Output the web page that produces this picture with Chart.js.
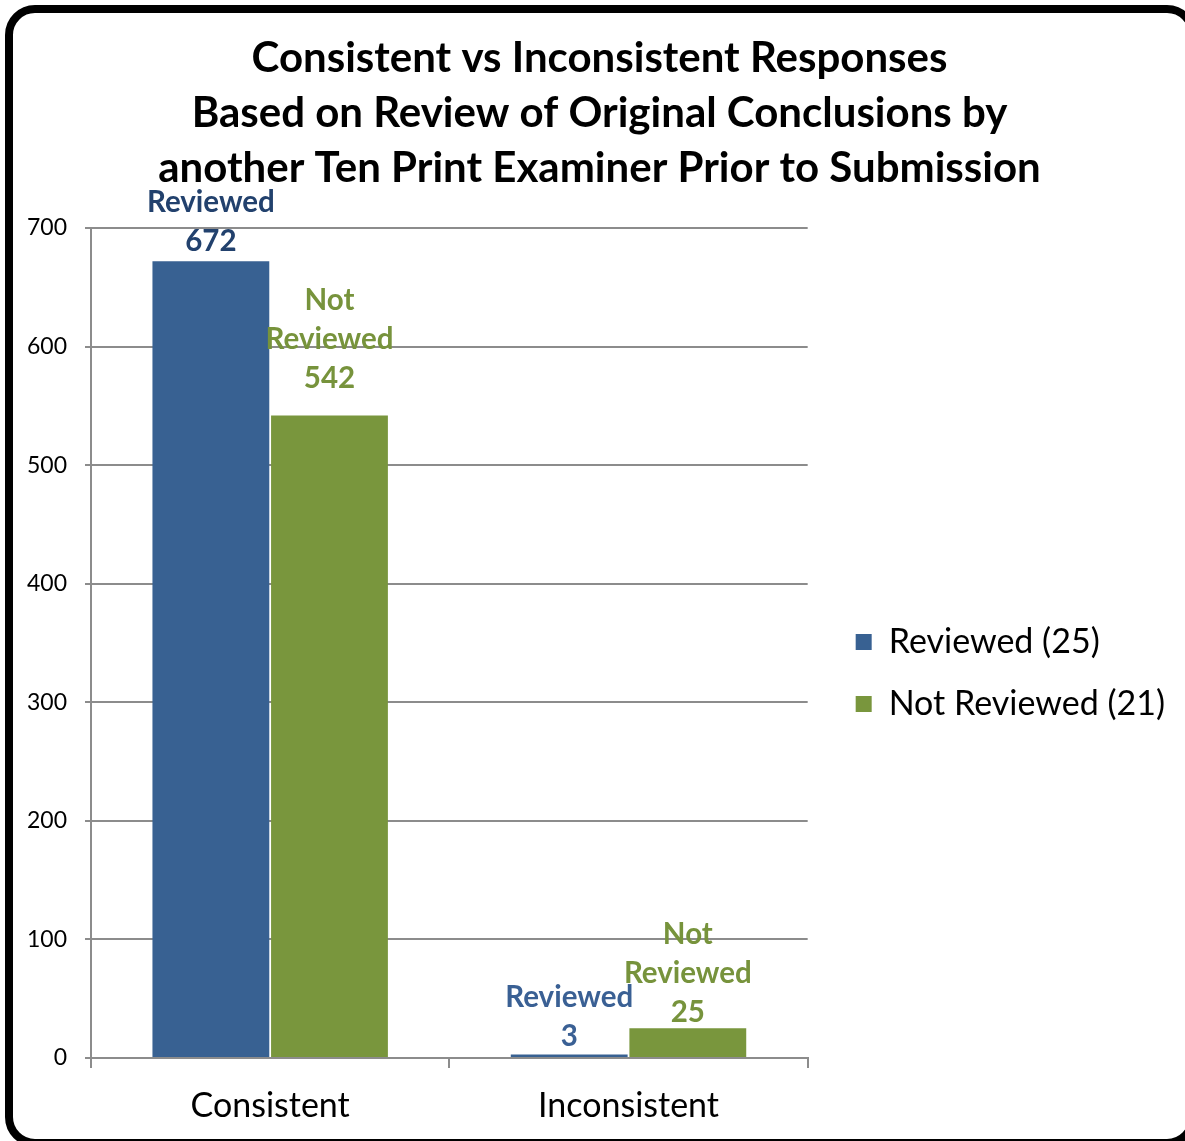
<!DOCTYPE html>
<html>
<head>
<meta charset="utf-8">
<title>Consistent vs Inconsistent Responses</title>
<script src="https://cdn.jsdelivr.net/npm/chart.js@4.4.0/dist/chart.umd.min.js"></script>
<style>
    body { margin: 0; background: #fff; overflow: hidden; }
    #wrap { position: relative; width: 1185px; height: 1141px; overflow: hidden; }
    #chart { position: absolute; left: 0; top: 0; }
    .frame {
        position: absolute; left: 5px; top: 5px; width: 1192px; height: 1142px;
        box-sizing: border-box; border: 8px solid #000; border-radius: 30px;
        pointer-events: none;
    }
</style>
</head>
<body>
<div id="wrap">
    <canvas id="chart" width="1185" height="1141"></canvas>
    <div class="frame"></div>
</div>
<script>
// Chart data
const categories = ["Consistent", "Inconsistent"];
const seriesNames = ["Reviewed", "Not Reviewed"];
const legendNames = ["Reviewed (25)", "Not Reviewed (21)"];
const reviewedValues = [672, 3];
const notReviewedValues = [542, 25];
const yTicks = [0, 100, 200, 300, 400, 500, 600, 700];

const titleLines = [
    "Consistent vs Inconsistent Responses",
    "Based on Review of Original Conclusions by",
    "another Ten Print Examiner Prior to Submission"
];

const FONT = "Lato, 'Open Sans', sans-serif";

// Draws "Name / value" labels above every bar
const barLabels = {
    id: "barLabels",
    afterDatasetsDraw(chart, args, opts) {
        const ctx = chart.ctx;
        ctx.save();
        ctx.font = "bold " + opts.size + "px " + FONT;
        ctx.textAlign = "center";
        ctx.textBaseline = "middle";
        chart.data.datasets.forEach((ds, di) => {
            const meta = chart.getDatasetMeta(di);
            meta.data.forEach((bar, i) => {
                const lines = seriesNames[di].split(" ").concat([String(ds.data[i])]);
                ctx.fillStyle = opts.colors[di][i];
                let y = bar.y - opts.gaps[di][i];
                for (let k = lines.length - 1; k >= 0; k--) {
                    ctx.fillText(lines[k], bar.x, y);
                    y -= opts.lineGap;
                }
            });
        });
        ctx.restore();
    }
};

const ctx = document.getElementById("chart").getContext("2d");
const chart = new Chart(ctx, {
    type: "bar",
    data: {
        labels: categories,
        datasets: [{
            label: legendNames[0],
            data: reviewedValues,
            backgroundColor: "#386192",
            categoryPercentage: 0.662,
            barPercentage: 0.985
        }, {
            label: legendNames[1],
            data: notReviewedValues,
            backgroundColor: "#79963D",
            categoryPercentage: 0.662,
            barPercentage: 0.985
        }]
    },
    options: {
        responsive: false,
        animation: false,
        layout: { padding: { left: 24, right: 10, top: 0, bottom: 0 } },
        plugins: {
            title: {
                display: true,
                text: titleLines,
                color: "#000",
                font: { family: FONT, size: 42, weight: "bold", lineHeight: 1.31 },
                padding: { top: 31, bottom: 32 }
            },
            legend: {
                position: "right",
                fullSize: false,
                maxWidth: 500,
                title: { display: true, text: " ", font: { size: 20, lineHeight: 1.2 }, padding: 18 },
                labels: {
                    color: "#000",
                    font: { family: FONT, size: 34 },
                    boxWidth: 16,
                    boxHeight: 16,
                    padding: 28
                }
            },
            tooltip: { enabled: false },
            barLabels: {
                size: 29.5,
                lineGap: 39,
                colors: [["#22416D", "#3A6094"], ["#77933C", "#77933C"]],
                gaps: [[20, 18], [37, 16]]
            }
        },
        scales: {
            x: {
                grid: {
                    display: true,
                    offset: true,
                    drawOnChartArea: false,
                    drawTicks: true,
                    tickLength: 10,
                    color: "#8c8c8c",
                    lineWidth: 2
                },
                border: { display: true, color: "#8c8c8c", width: 2 },
                ticks: { color: "#000", font: { family: FONT, size: 34 }, padding: 18 },
                afterFit(scale) { scale.height = 83; }
            },
            y: {
                min: 0,
                max: 700,
                afterBuildTicks(scale) { scale.ticks = yTicks.map(v => ({ value: v })); },
                grid: { color: "#8c8c8c", lineWidth: 2, tickLength: 6 },
                border: { display: true, color: "#8c8c8c", width: 2 },
                ticks: { color: "#000", font: { family: FONT, size: 23 }, padding: 18 },
                afterFit(scale) { scale.width = 67; }
            },
            spacer: {
                type: "linear",
                position: "right",
                display: true,
                grid: { display: false },
                border: { display: false },
                ticks: { display: false },
                afterFit(scale) { scale.width = 20; }
            }
        }
    },
    plugins: [barLabels]
});
</script>
</body>
</html>
